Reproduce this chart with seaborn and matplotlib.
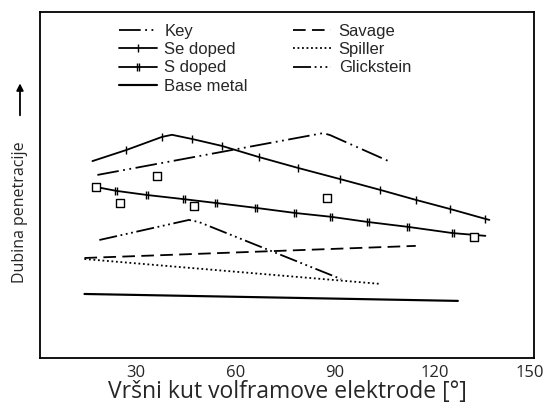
import numpy as np
import pandas as pd
import matplotlib.pyplot as plt
import matplotlib.transforms as mtransforms
import seaborn as sns
from matplotlib.lines import Line2D
from matplotlib.path import Path

# depth is in relative units (no scale on the original), 0 = bottom, 100 = top of frame
se_x = [16.8, 27.0, 37.8, 40.8, 46.8, 55.8, 66.9, 78.9, 91.5, 103.5, 114.3, 124.5, 135.3, 136.5]
se_y = [56.9, 60.1, 63.9, 64.5, 63.3, 61.3, 58.1, 54.9, 51.7, 48.6, 45.7, 43.1, 40.2, 39.9]

s_x = [18.0, 24.0, 33.3, 44.4, 54.0, 66.0, 78.0, 88.8, 99.9, 111.9, 125.4, 135.3]
s_y = [49.4, 48.3, 47.1, 45.9, 44.8, 43.4, 41.9, 40.8, 39.3, 37.9, 36.1, 35.3]

s_pts_x = [18.0, 25.2, 36.3, 47.4, 87.6, 132.0]
s_pts_y = [49.4, 44.8, 52.6, 43.9, 46.2, 35.0]

key_x = [18.3, 86.4, 88.5, 106.8]
key_y = [52.9, 65.0, 64.4, 56.6]

glick_x = [18.9, 45.9, 48.9, 91.8]
glick_y = [34.1, 39.9, 39.3, 22.8]

savage_x = [14.4, 114.3]
savage_y = [28.9, 32.4]

spiller_x = [14.4, 103.8]
spiller_y = [28.6, 21.4]

base_x = [14.4, 127.0]
base_y = [18.5, 16.5]

xticks = [30, 60, 90, 120, 150]

sns.set_style("white")
plt.rcParams['font.family'] = ['Open Sans', 'DejaVu Sans']

fig = plt.figure(figsize=(5.46, 4.03), dpi=100)
ax = fig.add_axes([0.0733, 0.1117, 0.905, 0.8586])

lw = 1.3
key_ls = (0, (12, 2.5, 1, 2.5, 1, 2.5))
glick_ls = (0, (10, 2, 1, 2, 1, 2, 1, 2))
savage_ls = (0, (7, 3.5))
spiller_ls = (0, (1, 1.5))

# double-bar marker for S doped
dbl = Path([(-0.35, -1), (-0.35, 1), (0.35, -1), (0.35, 1)],
           [Path.MOVETO, Path.LINETO, Path.MOVETO, Path.LINETO])

sns.lineplot(x=se_x, y=se_y, ax=ax, color='k', lw=lw)
ln = ax.lines[-1]
ln.set_marker('|'); ln.set_markersize(5.5); ln.set_markeredgewidth(1.0)
ln.set_markeredgecolor('k')
ln.set_markevery([1, 2, 4, 5, 6, 7, 8, 9, 10, 11, 12])

sns.lineplot(x=s_x, y=s_y, ax=ax, color='k', lw=lw)
ln = ax.lines[-1]
ln.set_marker(dbl); ln.set_markersize(5.5); ln.set_markeredgewidth(1.0)
ln.set_markeredgecolor('k')
ln.set_markevery(list(range(1, 11)))

sns.scatterplot(x=s_pts_x, y=s_pts_y, ax=ax, marker='s', s=30,
                facecolor='white', edgecolor='k', linewidth=1.0, zorder=5)
sns.lineplot(x=key_x, y=key_y, ax=ax, color='k', lw=lw, linestyle=key_ls)
sns.lineplot(x=glick_x, y=glick_y, ax=ax, color='k', lw=lw, linestyle=glick_ls)
sns.lineplot(x=savage_x, y=savage_y, ax=ax, color='k', lw=lw, linestyle=savage_ls)
sns.lineplot(x=spiller_x, y=spiller_y, ax=ax, color='k', lw=lw, linestyle=spiller_ls)
sns.lineplot(x=base_x, y=base_y, ax=ax, color='k', lw=lw * 1.2)

ax.set_xlim(1, 150)
ax.set_ylim(0, 100)
ax.set_xticks(xticks)
ax.set_xticklabels([str(t) for t in xticks], fontsize=12)
ax.set_yticks([])
ax.tick_params(axis='x', direction='in', length=10, width=1.2, pad=5)
# nudge the last label so it stays inside the picture
last = ax.get_xticklabels()[-1]
last.set_transform(last.get_transform() +
                   mtransforms.ScaledTranslation(-4 / 100, 0, fig.dpi_scale_trans))
for sp in ax.spines.values():
    sp.set_linewidth(1.3)
    sp.set_color('k')
ax.set_xlabel('Vršni kut volframove elektrode [°]', fontsize=16.5, labelpad=-1)
ax.set_ylabel('')

fig.text(0.0366, 0.474, 'Dubina penetracije', rotation=90, ha='center',
         va='center', fontsize=11.5)
ax.annotate('', xy=(0.0366, 0.800), xytext=(0.0366, 0.707),
            xycoords='figure fraction', textcoords='figure fraction',
            arrowprops=dict(arrowstyle='-|>', color='k', lw=1.3,
                            mutation_scale=10))

handles = [
    Line2D([], [], color='k', lw=lw, linestyle=key_ls),
    Line2D([], [], color='k', lw=lw, marker='|', ms=5.5, mew=1.0),
    Line2D([], [], color='k', lw=lw, marker=dbl, ms=5.5, mew=1.0),
    Line2D([], [], color='k', lw=lw * 1.2),
    Line2D([], [], color='k', lw=lw, linestyle=savage_ls),
    Line2D([], [], color='k', lw=lw, linestyle=spiller_ls),
    Line2D([], [], color='k', lw=lw, linestyle=glick_ls),
]
labels = ['Key', 'Se doped', 'S doped', 'Base metal', 'Savage', 'Spiller', 'Glickstein']
ax.legend(handles, labels, ncol=2, loc='upper left', bbox_to_anchor=(0.142, 0.99),
          frameon=False, borderpad=0, labelspacing=0.2,
          handlelength=2.3, handletextpad=0.45, columnspacing=2.7,
          prop={'family': 'Liberation Sans', 'size': 12})

fig.savefig('out.png', dpi=100)
